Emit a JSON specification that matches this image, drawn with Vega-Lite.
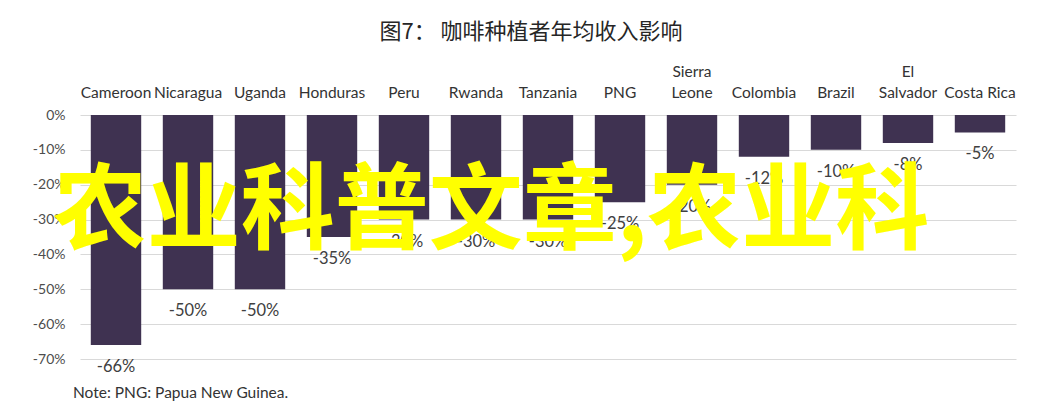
{
  "$schema": "https://vega.github.io/schema/vega-lite/v6.json",
  "width": 936,
  "height": 244,
  "autosize": {"type": "none"},
  "padding": {"left": 80, "top": 115, "right": 24, "bottom": 55},
  "background": "white",
  "config": {"view": {"stroke": null}},
  "title": {
    "text": "图7：  咖啡种植者年均收入影响",
    "font": "Noto Sans CJK SC",
    "fontSize": 22,
    "fontWeight": "normal",
    "color": "#262626",
    "anchor": "middle",
    "dx": -17,
    "offset": 20
  },
  "data": {
    "values": [
      {"country": "Cameroon", "value": -66},
      {"country": "Nicaragua", "value": -50},
      {"country": "Uganda", "value": -50},
      {"country": "Honduras", "value": -35},
      {"country": "Peru", "value": -30},
      {"country": "Rwanda", "value": -30},
      {"country": "Tanzania", "value": -30},
      {"country": "PNG", "value": -25},
      {"country": "Sierra Leone", "value": -20},
      {"country": "Colombia", "value": -12},
      {"country": "Brazil", "value": -10},
      {"country": "El Salvador", "value": -8},
      {"country": "Costa Rica", "value": -5}
    ]
  },
  "layer": [
    {
      "mark": {"type": "bar", "color": "#3f3251"},
      "encoding": {
        "x": {
          "field": "country",
          "type": "nominal",
          "sort": null,
          "scale": {"paddingInner": 0.3, "paddingOuter": 0.15},
          "axis": {
            "orient": "top",
            "title": null,
            "labelAngle": 0,
            "labelOverlap": false,
            "labelPadding": 36,
            "labelFont": "Lato",
            "labelFontSize": 15.5,
            "labelColor": "#333333",
            "labelLineHeight": 21,
            "labelExpr": "datum.label == 'Sierra Leone' ? ['Sierra', 'Leone'] : datum.label == 'El Salvador' ? ['El', 'Salvador'] : [' ', datum.label]",
            "ticks": false,
            "domain": false,
            "grid": false
          }
        },
        "y": {
          "field": "value",
          "type": "quantitative",
          "scale": {"domain": [-70, 0], "nice": false},
          "axis": {
            "title": null,
            "tickCount": 8,
            "labelExpr": "datum.value + '%'",
            "labelOverlap": false,
            "labelSeparation": 0,
            "labelBound": false,
            "labelFlush": false,
            "labelFont": "Lato",
            "labelFontSize": 14,
            "labelColor": "#4d4d4d",
            "labelPadding": 15,
            "ticks": false,
            "domain": false,
            "gridColor": "#d9d9d9",
            "gridWidth": 1
          }
        }
      }
    },
    {
      "mark": {
        "type": "text",
        "baseline": "middle",
        "align": "center",
        "dy": 22,
        "font": "Lato",
        "fontSize": 16.5,
        "color": "#404040",
        "text": {"expr": "datum.value + '%'"}
      },
      "encoding": {
        "x": {"field": "country", "type": "nominal", "sort": null},
        "y": {"field": "value", "type": "quantitative"}
      }
    },
    {
      "data": {"values": [{"note": "Note: PNG: Papua New Guinea."}]},
      "mark": {
        "type": "text",
        "align": "left",
        "baseline": "middle",
        "dx": -43,
        "dy": 34,
        "font": "Lato",
        "fontSize": 15.5,
        "color": "#333333"
      },
      "encoding": {
        "x": {"datum": "Cameroon", "type": "nominal"},
        "y": {"datum": -70, "type": "quantitative"},
        "text": {"field": "note"}
      }
    },
    {
      "data": {"values": [{"mark": "农业科普文章,农业科"}]},
      "mark": {
        "type": "text",
        "align": "center",
        "baseline": "middle",
        "dx": 15,
        "dy": -2,
        "font": "Noto Sans CJK SC",
        "fontWeight": "bold",
        "fontSize": 94,
        "color": "#ffff00"
      },
      "encoding": {
        "x": {"datum": "Rwanda", "type": "nominal"},
        "y": {"datum": -29, "type": "quantitative"},
        "text": {"field": "mark"}
      }
    }
  ]
}
